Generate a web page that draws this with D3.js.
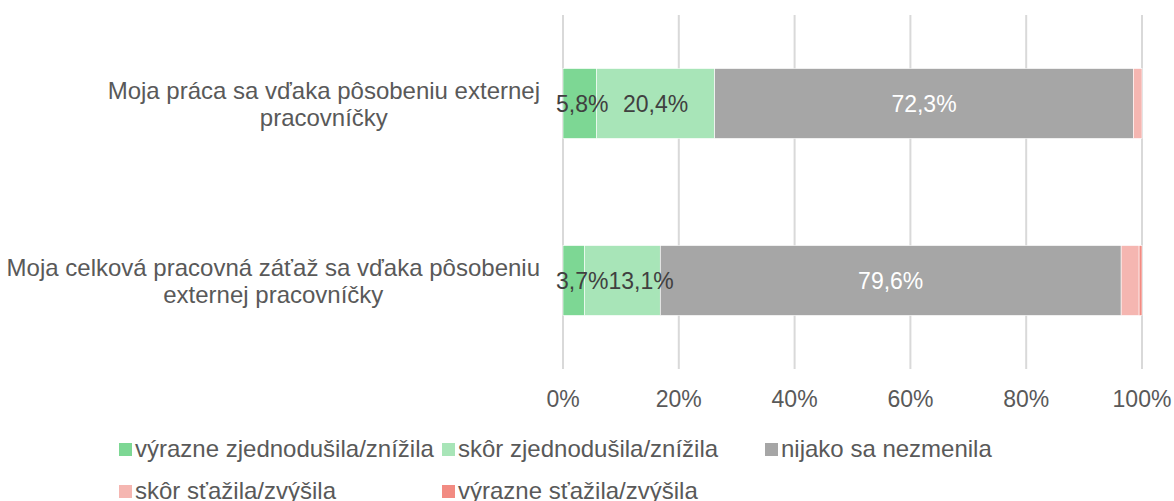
<!DOCTYPE html>
<html>
<head>
<meta charset="utf-8">
<script src="https://cdn.jsdelivr.net/npm/d3@7"></script>
<style>
  body { margin: 0; background: #fff; }
  text { font-family: "Liberation Sans", Arial, sans-serif; }
</style>
</head>
<body>
<div id="chart"></div>
<script>
const categories = [
  ['Moja práca sa vďaka pôsobeniu externej', 'pracovníčky'],
  ['Moja celková pracovná záťaž sa vďaka pôsobeniu', 'externej pracovníčky']
];
const seriesNames = [
  'výrazne zjednodušila/znížila',
  'skôr zjednodušila/znížila',
  'nijako sa nezmenila',
  'skôr sťažila/zvýšila',
  'výrazne sťažila/zvýšila'
];
// percent values per category, in series order
const values1 = [5.8, 20.4, 72.3, 1.5, 0];
const values2 = [3.7, 13.1, 79.6, 3.1, 0.5];
const shownLabels = [true, true, true, false, false];
const ticks = [0, 20, 40, 60, 80, 100];
const colors = ['#7dd794', '#a8e5b8', '#a6a6a6', '#f5b6b1', '#f28b82'];
const labelColors = ['#404040', '#404040', '#ffffff', '#404040', '#404040'];

const fullWidth = 1174, fullHeight = 501;
const margin = { top: 15, left: 563, right: 32, bottom: 132 };
const plotBottom = fullHeight - margin.bottom;

let rows = categories.map((c, i) => {
  let vals = i === 0 ? values1 : values2;
  let r = { key: 'c' + i, label: c };
  seriesNames.forEach((s, j) => r[s] = vals[j]);
  return r;
});

let svg = d3.select('#chart')
  .append('svg')
  .attr('width', fullWidth)
  .attr('height', fullHeight);

let x = d3.scaleLinear()
  .domain([0, 100])
  .range([margin.left, 1142]);

let y = d3.scaleBand()
  .domain(rows.map(d => d.key))
  .range([margin.top, plotBottom])
  .paddingInner(0.605)
  .paddingOuter(0.3025);

// gridlines
svg.append('g')
  .selectAll('line')
  .data(ticks)
  .enter()
  .append('line')
  .attr('x1', d => x(d))
  .attr('x2', d => x(d))
  .attr('y1', margin.top)
  .attr('y2', plotBottom)
  .style('stroke', '#d9d9d9')
  .style('stroke-width', 2);

// tick labels
svg.append('g')
  .selectAll('text')
  .data(ticks)
  .enter()
  .append('text')
  .attr('x', d => x(d))
  .attr('y', 407)
  .style('text-anchor', 'middle')
  .style('font-size', '23px')
  .style('fill', '#595959')
  .text(d => d + '%');

let stack = d3.stack().keys(seriesNames);
let layers = stack(rows);

let gLayer = svg.append('g')
  .selectAll('g')
  .data(layers)
  .enter()
  .append('g')
  .style('fill', (d, i) => colors[i]);

gLayer.selectAll('rect')
  .data(d => d)
  .enter()
  .append('rect')
  .attr('x', d => x(d[0]))
  .attr('y', d => y(d.data.key))
  .attr('width', d => x(d[1]) - x(d[0]))
  .attr('height', y.bandwidth())
  .style('stroke', '#ffffff')
  .style('stroke-width', 0.6);

// data labels: centred in segment, nudged right when they would collide
let labelG = svg.append('g');
rows.forEach((r, ri) => {
  let prevEnd = x(0) - 7;
  layers.forEach((layer, i) => {
    if (!shownLabels[i]) return;
    let d = layer[ri];
    let t = labelG.append('text')
      .attr('y', y(r.key) + y.bandwidth() / 2 + 8)
      .style('font-size', '23px')
      .style('fill', labelColors[i])
      .text(d3.format('.1f')(d[1] - d[0]).replace('.', ',') + '%');
    let w = t.node().getComputedTextLength();
    let left = Math.max(x((d[0] + d[1]) / 2) - w / 2, prevEnd);
    t.attr('x', left);
    prevEnd = left + w;
  });
});

// category labels, centred lines, block right edge at 540
rows.forEach(r => {
  let cy = y(r.key) + y.bandwidth() / 2;
  let g = svg.append('g');
  let lines = g.selectAll('text')
    .data(r.label)
    .enter()
    .append('text')
    .attr('y', (d, i) => cy - 5 + i * 27)
    .style('text-anchor', 'middle')
    .style('font-size', '24px')
    .style('fill', '#595959')
    .text(d => d);
  let widest = d3.max(lines.nodes(), n => n.getComputedTextLength());
  lines.attr('x', 540 - widest / 2);
});

// legend
const legendCols = [119, 442, 765];
const legendRows = [443, 485];
let legend = svg.append('g')
  .selectAll('g')
  .data(seriesNames)
  .enter()
  .append('g')
  .attr('transform', (d, i) => `translate(${legendCols[i % 3]}, ${legendRows[Math.floor(i / 3)]})`);

legend.append('rect')
  .attr('width', 13)
  .attr('height', 13)
  .style('fill', (d, i) => colors[i]);

legend.append('text')
  .attr('x', 16)
  .attr('y', 14)
  .style('font-size', '24px')
  .style('fill', '#595959')
  .text(d => d);
</script>
</body>
</html>
